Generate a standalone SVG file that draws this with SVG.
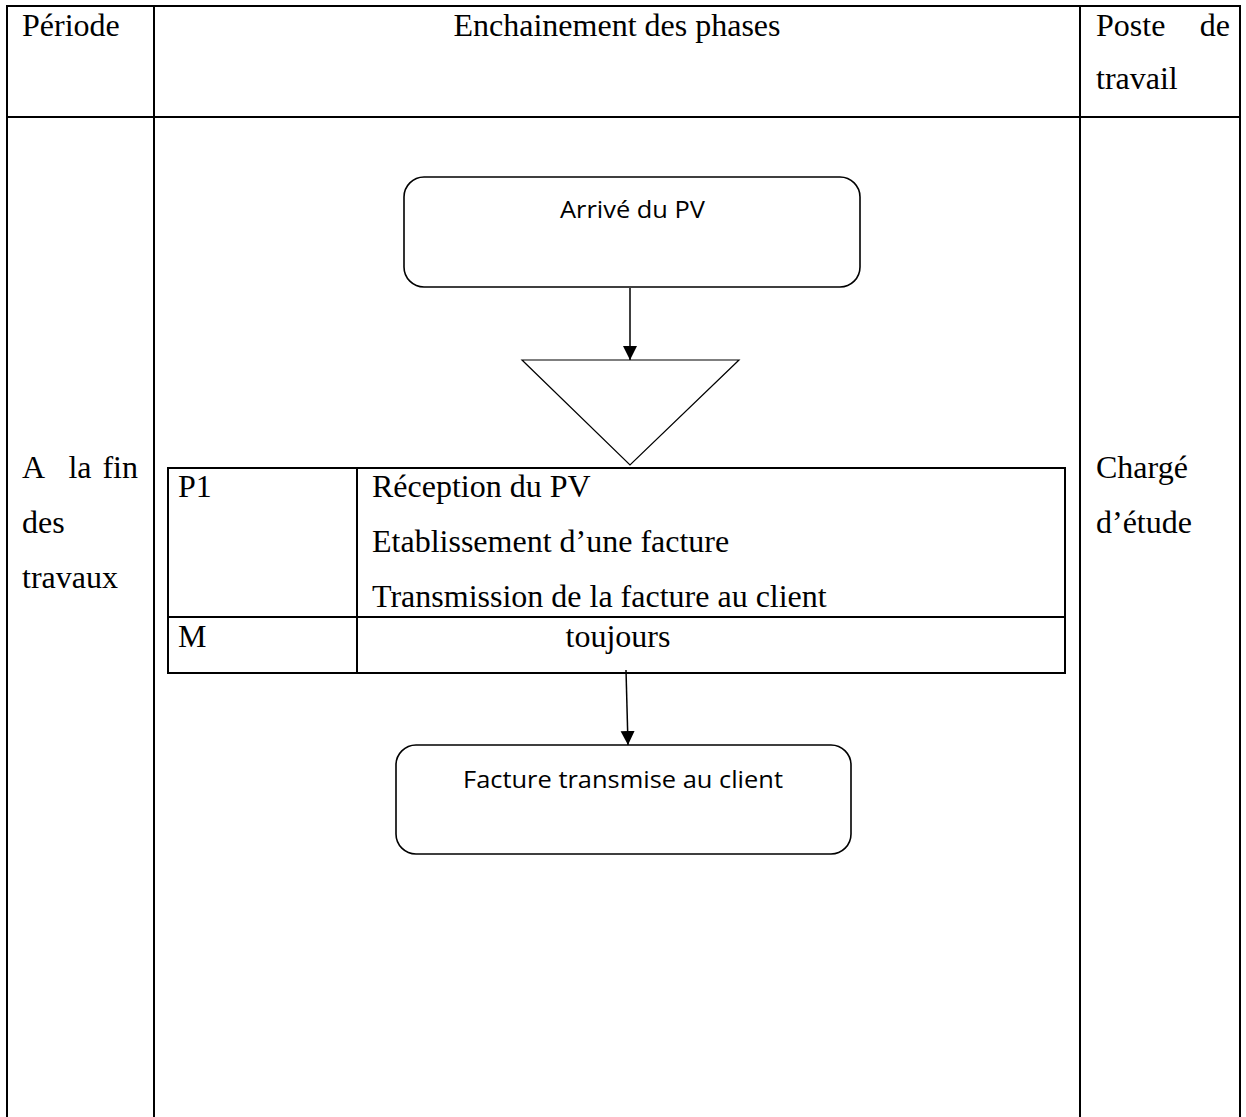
<svg xmlns="http://www.w3.org/2000/svg" width="1246" height="1117" viewBox="0 0 1246 1117">
<style>
.t{font-family:"Liberation Serif","Times New Roman",serif;font-size:32px;fill:#000}
.s{font-family:"Open Sans","Liberation Sans",sans-serif;font-size:24px;fill:#000}
.g{stroke:#000;stroke-width:2;fill:none}
.b{stroke:#000;stroke-width:1.6;fill:#fff}
.c{stroke:#000;stroke-width:1.5;fill:none}
</style>
<defs>
<marker id="ah" markerWidth="16" markerHeight="16" refX="14" refY="7" orient="auto" markerUnits="userSpaceOnUse">
<path d="M0,0 L14,7 L0,14 Z" fill="#000"/>
</marker>
</defs>
<rect width="1246" height="1117" fill="#fff"/>
<g id="outer-table">
<path class="g" d="M7,1117 V6 H1240 V1117 M154,6 V1117 M1080,6 V1117 M7,117 H1240"/>
<text class="t" x="22" y="36">Période</text>
<text class="t" x="617" y="36" text-anchor="middle">Enchainement des phases</text>
<text class="t" x="1096" y="36">Poste</text>
<text class="t" x="1230" y="36" text-anchor="end">de</text>
<text class="t" x="1096" y="89">travail</text>
<text class="t" x="22" y="478">A</text>
<text class="t" x="80" y="478" text-anchor="middle">la</text>
<text class="t" x="138" y="478" text-anchor="end">fin</text>
<text class="t" x="22" y="533">des</text>
<text class="t" x="22" y="588">travaux</text>
<text class="t" x="1096" y="478">Chargé</text>
<text class="t" x="1096" y="533">d’étude</text>
</g>
<g id="node-arrive">
<rect class="b" x="404" y="177" width="456" height="110" rx="20"/>
<text class="s" x="560" y="218" textLength="145" lengthAdjust="spacingAndGlyphs">Arrivé du PV</text>
</g>
<g id="node-stock">
<path d="M522,360 H739 L630,465 Z" fill="#fff" stroke="#000" stroke-width="1.2"/>
</g>
<g id="node-phase">
<path class="g" d="M168,468 H1065 V673 H168 Z M357,468 V673 M168,617 H1065" fill="#fff"/>
<text class="t" x="178" y="497">P1</text>
<text class="t" x="372" y="497">Réception du PV</text>
<text class="t" x="372" y="552">Etablissement d’une facture</text>
<text class="t" x="372" y="607">Transmission de la facture au client</text>
<text class="t" x="178" y="647">M</text>
<text class="t" x="618" y="647" text-anchor="middle">toujours</text>
</g>
<g id="node-facture">
<rect class="b" x="396" y="745" width="455" height="109" rx="20"/>
<text class="s" x="463" y="788" textLength="320" lengthAdjust="spacingAndGlyphs">Facture transmise au client</text>
</g>
<g id="connectors">
<line class="c" x1="630" y1="288" x2="630" y2="360" marker-end="url(#ah)"/>
<line class="c" x1="626" y1="670" x2="628" y2="745" marker-end="url(#ah)"/>
</g>
</svg>
